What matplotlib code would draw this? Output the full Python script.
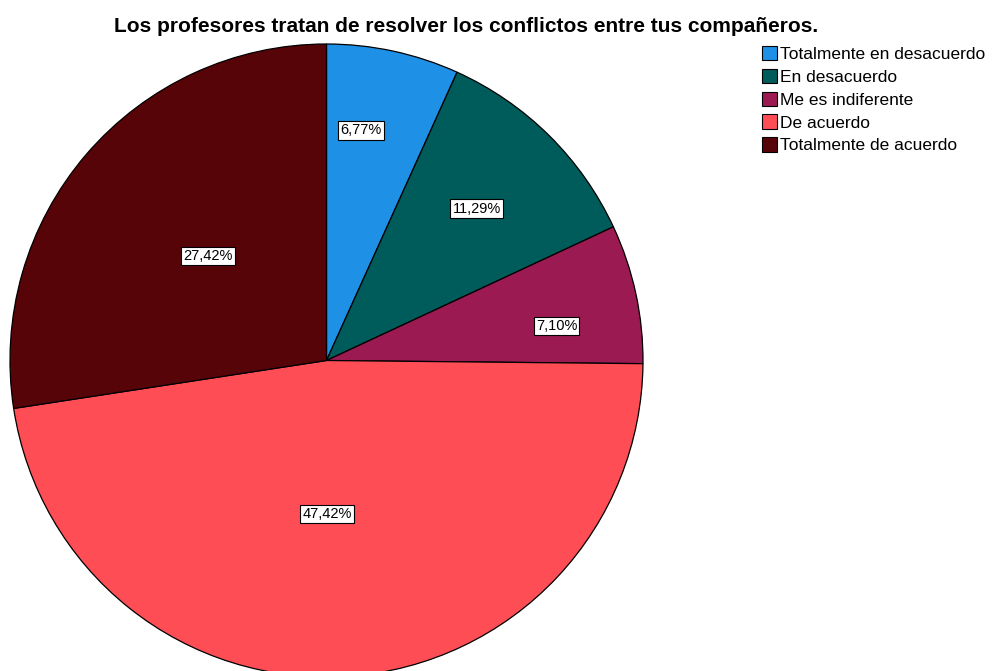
import matplotlib

matplotlib.use("Agg")

import matplotlib.pyplot as plt
import numpy as np
from matplotlib.patches import Patch

plt.rcParams["font.family"] = ["Liberation Sans", "DejaVu Sans"]

categories = [
    "Totalmente en desacuerdo",
    "En desacuerdo",
    "Me es indiferente",
    "De acuerdo",
    "Totalmente de acuerdo",
]
percentages = [6.77, 11.29, 7.10, 47.42, 27.42]
title = "Los profesores tratan de resolver los conflictos entre tus compañeros."

colors = ["#1E90E6", "#005B5B", "#9B1A52", "#FF4D56", "#560408"]

# posicion de etiquetas (fraccion del radio, desplazamiento angular)
label_radius = [0.735, 0.675, 0.735, 0.485, 0.50]
label_shift = [3.7, 0.0, -3.7, -3.9, -0.8]

W, H = 996, 671
center = (326.5, H - 360.5)
radius = 316.5

figure = plt.figure(figsize=(W / 100, H / 100), dpi=100)
axis = figure.add_axes([0, 0, 1, 1])

wedges, _ = axis.pie(
    percentages,
    colors=colors,
    startangle=90,
    counterclock=False,
    center=center,
    radius=radius,
    wedgeprops={"edgecolor": "black", "linewidth": 0.9},
    frame=True,
)
axis.set_xlim(0, W)
axis.set_ylim(0, H)
axis.axis("off")

for wedge, value, frac, shift in zip(wedges, percentages, label_radius, label_shift):
    mid = np.deg2rad((wedge.theta1 + wedge.theta2) / 2 + shift)
    x = center[0] + frac * radius * np.cos(mid)
    y = center[1] + frac * radius * np.sin(mid)
    axis.text(
        x,
        y,
        f"{value:.2f}%".replace(".", ","),
        ha="center",
        va="center",
        fontsize=10.5,
        bbox={"boxstyle": "square,pad=0.15", "facecolor": "white", "edgecolor": "black", "linewidth": 0.8},
    )

figure.text(466 / W, 1 - 26 / H, title, ha="center", va="center", fontsize=15, fontweight="bold")

handles = [Patch(facecolor=c, edgecolor="black", linewidth=0.8) for c in colors]
figure.legend(
    handles,
    categories,
    loc="upper left",
    bbox_to_anchor=(762 / W, 1 - 46 / H),
    frameon=False,
    fontsize=12.5,
    handlelength=0.85,
    handleheight=0.9,
    handletextpad=0.2,
    labelspacing=0.38,
    borderpad=0,
    borderaxespad=0,
)

figure.savefig("out.png", dpi=100)
